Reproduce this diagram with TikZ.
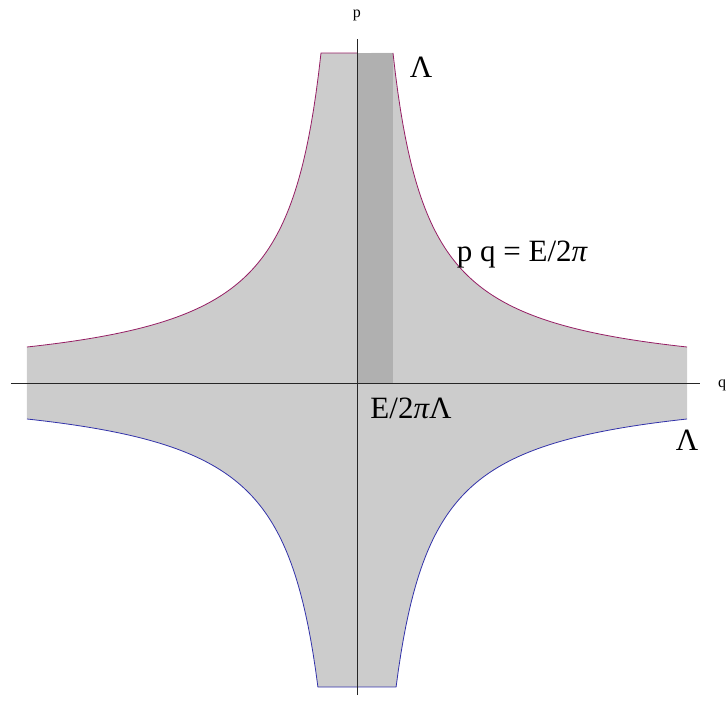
\documentclass[tikz,border=0pt]{standalone}
\usepackage{fontspec}
\setmainfont{Liberation Serif}
\usepackage{xcolor}
\usepackage{tikz}
\definecolor{upcurve}{RGB}{150,30,100}
\definecolor{downcurve}{RGB}{50,50,170}
\newcommand{\lmax}{330}
\newcommand{\qmin}{36}
\newcommand{\pbot}{304}
\tikzset{biglabel/.style={font=\fontsize{31}{36}\selectfont},
	axislabel/.style={font=\fontsize{16}{18}\selectfont}}

\begin{document}
\begin{tikzpicture}[x=1pt,y=1pt]
				\useasboundingbox (-357,-343) rectangle (371,383);
				\pgfmathsetmacro{\qbot}{\qmin*\lmax/\pbot}
				
				\fill[black!20] plot[domain=\qmin:\lmax,samples=120] (\x,{\qmin*\lmax/\x})
					-- plot[domain=\lmax:\qbot,samples=120] (\x,{-\qmin*\lmax/\x})
					-- plot[domain=-\qbot:-\lmax,samples=120] (\x,{\qmin*\lmax/\x})
					-- plot[domain=-\lmax:-\qmin,samples=120] (\x,{-\qmin*\lmax/\x}) -- cycle;
				\fill[black!31] (0,0) rectangle (\qmin,\lmax);
				
				\draw[upcurve, line width=0.8pt] plot[domain=-\lmax:-\qmin,samples=120] (\x,{-\qmin*\lmax/\x}) -- (0,\lmax);
				\draw[upcurve, line width=0.8pt] plot[domain=\qmin:\lmax,samples=120] (\x,{\qmin*\lmax/\x});
				\draw[downcurve, line width=0.8pt] plot[domain=-\lmax:-\qbot,samples=120] (\x,{\qmin*\lmax/\x})
					-- plot[domain=\qbot:\lmax,samples=120] (\x,{-\qmin*\lmax/\x});
				
				\coordinate (qstart) at (-346,0);
				\coordinate (qend) at (343,0);
				\coordinate (pstart) at (0,-312);
				\coordinate (pend) at (0,344);
				\draw[black!85, line width=0.8pt] (qstart) -- (qend);
				\draw[black!85, line width=0.8pt] (pstart) -- (pend);
				
				\node[axislabel] (plabel) at (0,368) {p};
				\node[axislabel] (qlabel) at (365,-2) {q};
				\node[biglabel] (lamtop) at (64,316) {Λ};
				\node[biglabel] (lamright) at (330,-57) {Λ};
				\node[biglabel] (hyper) at (165,128) {p q = E/2{\itshape π}};
				\node[biglabel] (cutoff) at (54,-25) {E/2{\itshape π}Λ};
			\end{tikzpicture}
\end{document}
